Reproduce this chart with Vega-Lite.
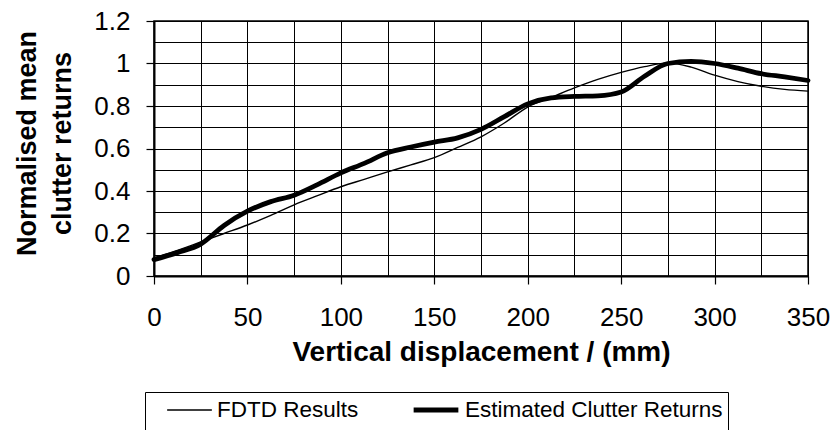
{
  "$schema": "https://vega.github.io/schema/vega-lite/v6.json",
  "width": 654,
  "height": 255,
  "autosize": {"type": "none"},
  "padding": {"left": 154, "top": 21, "right": 27, "bottom": 154},
  "background": "white",
  "config": {
    "font": "Liberation Sans",
    "view": {"stroke": "black", "strokeWidth": 1.5},
    "axis": {
      "labelFont": "Liberation Sans",
      "labelFontSize": 26,
      "labelColor": "black",
      "titleFont": "Liberation Sans",
      "titleColor": "black",
      "titleFontWeight": "bold",
      "gridColor": "black",
      "gridWidth": 1,
      "gridOpacity": 1,
      "domainColor": "black",
      "domainWidth": 2,
      "tickColor": "black",
      "tickWidth": 1.2,
      "tickSize": 8
    }
  },
  "data": {
    "values": [
      {"x": 0, "y": 0.085, "series": "FDTD Results"},
      {"x": 12.5, "y": 0.12, "series": "FDTD Results"},
      {"x": 25, "y": 0.16, "series": "FDTD Results"},
      {"x": 37.5, "y": 0.2, "series": "FDTD Results"},
      {"x": 50, "y": 0.24, "series": "FDTD Results"},
      {"x": 62.5, "y": 0.285, "series": "FDTD Results"},
      {"x": 75, "y": 0.335, "series": "FDTD Results"},
      {"x": 87.5, "y": 0.378, "series": "FDTD Results"},
      {"x": 100, "y": 0.42, "series": "FDTD Results"},
      {"x": 112.5, "y": 0.455, "series": "FDTD Results"},
      {"x": 125, "y": 0.49, "series": "FDTD Results"},
      {"x": 137.5, "y": 0.523, "series": "FDTD Results"},
      {"x": 150, "y": 0.557, "series": "FDTD Results"},
      {"x": 162.5, "y": 0.605, "series": "FDTD Results"},
      {"x": 175, "y": 0.655, "series": "FDTD Results"},
      {"x": 187.5, "y": 0.72, "series": "FDTD Results"},
      {"x": 200, "y": 0.795, "series": "FDTD Results"},
      {"x": 212.5, "y": 0.84, "series": "FDTD Results"},
      {"x": 225, "y": 0.885, "series": "FDTD Results"},
      {"x": 237.5, "y": 0.925, "series": "FDTD Results"},
      {"x": 250, "y": 0.958, "series": "FDTD Results"},
      {"x": 262.5, "y": 0.985, "series": "FDTD Results"},
      {"x": 275, "y": 1.003, "series": "FDTD Results"},
      {"x": 287.5, "y": 0.983, "series": "FDTD Results"},
      {"x": 300, "y": 0.945, "series": "FDTD Results"},
      {"x": 312.5, "y": 0.915, "series": "FDTD Results"},
      {"x": 325, "y": 0.893, "series": "FDTD Results"},
      {"x": 337.5, "y": 0.878, "series": "FDTD Results"},
      {"x": 350, "y": 0.87, "series": "FDTD Results"},
      {"x": 0, "y": 0.077, "series": "Estimated Clutter Returns"},
      {"x": 12.5, "y": 0.11, "series": "Estimated Clutter Returns"},
      {"x": 25, "y": 0.15, "series": "Estimated Clutter Returns"},
      {"x": 37.5, "y": 0.238, "series": "Estimated Clutter Returns"},
      {"x": 50, "y": 0.305, "series": "Estimated Clutter Returns"},
      {"x": 62.5, "y": 0.35, "series": "Estimated Clutter Returns"},
      {"x": 75, "y": 0.38, "series": "Estimated Clutter Returns"},
      {"x": 87.5, "y": 0.43, "series": "Estimated Clutter Returns"},
      {"x": 100, "y": 0.485, "series": "Estimated Clutter Returns"},
      {"x": 112.5, "y": 0.53, "series": "Estimated Clutter Returns"},
      {"x": 125, "y": 0.58, "series": "Estimated Clutter Returns"},
      {"x": 137.5, "y": 0.607, "series": "Estimated Clutter Returns"},
      {"x": 150, "y": 0.63, "series": "Estimated Clutter Returns"},
      {"x": 162.5, "y": 0.65, "series": "Estimated Clutter Returns"},
      {"x": 175, "y": 0.69, "series": "Estimated Clutter Returns"},
      {"x": 187.5, "y": 0.75, "series": "Estimated Clutter Returns"},
      {"x": 200, "y": 0.81, "series": "Estimated Clutter Returns"},
      {"x": 212.5, "y": 0.838, "series": "Estimated Clutter Returns"},
      {"x": 225, "y": 0.845, "series": "Estimated Clutter Returns"},
      {"x": 237.5, "y": 0.848, "series": "Estimated Clutter Returns"},
      {"x": 250, "y": 0.866, "series": "Estimated Clutter Returns"},
      {"x": 262.5, "y": 0.94, "series": "Estimated Clutter Returns"},
      {"x": 275, "y": 1.0, "series": "Estimated Clutter Returns"},
      {"x": 287.5, "y": 1.01, "series": "Estimated Clutter Returns"},
      {"x": 300, "y": 1.0, "series": "Estimated Clutter Returns"},
      {"x": 312.5, "y": 0.978, "series": "Estimated Clutter Returns"},
      {"x": 325, "y": 0.952, "series": "Estimated Clutter Returns"},
      {"x": 337.5, "y": 0.937, "series": "Estimated Clutter Returns"},
      {"x": 350, "y": 0.92, "series": "Estimated Clutter Returns"}
    ]
  },
  "mark": {"type": "line", "interpolate": "monotone", "color": "black", "strokeCap": "round", "strokeJoin": "round"},
  "encoding": {
    "x": {
      "field": "x",
      "type": "quantitative",
      "scale": {"domain": [0, 350], "nice": false},
      "axis": {
        "values": [0, 25, 50, 75, 100, 125, 150, 175, 200, 225, 250, 275, 300, 325, 350],
        "labelExpr": "datum.value % 50 === 0 ? datum.label : ''",
        "tickOpacity": {"condition": {"test": "datum.value % 50 === 0", "value": 1}, "value": 0},
        "title": "Vertical displacement / (mm)",
        "titleFontSize": 28,
        "titleBaseline": "alphabetic",
        "titleY": 84,
        "labelBaseline": "alphabetic",
        "labelPadding": 41,
        "labelFlush": false,
        "labelOverlap": false
      }
    },
    "y": {
      "field": "y",
      "type": "quantitative",
      "scale": {"domain": [0, 1.2], "nice": false},
      "axis": {
        "values": [0, 0.1, 0.2, 0.3, 0.4, 0.5, 0.6, 0.7, 0.8, 0.9, 1, 1.1, 1.2],
        "format": "~g",
        "labelExpr": "round(datum.value * 10) % 2 === 0 ? datum.label : ''",
        "tickOpacity": {"condition": {"test": "round(datum.value * 10) % 2 === 0", "value": 1}, "value": 0},
        "labelPadding": 16,
        "labelFlush": false,
        "labelOverlap": false,
        "title": ["Normalised mean", "clutter returns"],
        "titleFontSize": 27,
        "titleLineHeight": 35,
        "titleBaseline": "middle",
        "titleX": -127,
        "titleY": 122
      }
    },
    "strokeWidth": {
      "field": "series",
      "type": "ordinal",
      "scale": {"type": "ordinal", "domain": ["FDTD Results", "Estimated Clutter Returns"], "range": [1.4, 4.8]},
      "legend": {
        "orient": "none",
        "direction": "horizontal",
        "legendX": -9,
        "legendY": 371,
        "title": " ",
        "titleOrient": "bottom",
        "titleFontSize": 20,
        "titlePadding": 6,
        "strokeColor": "black",
        "fillColor": "white",
        "padding": 5,
        "symbolType": "stroke",
        "symbolSize": 2000,
        "symbolStrokeColor": "black",
        "symbolOffset": 16,
        "clipHeight": 26,
        "labelFont": "Liberation Sans",
        "labelFontSize": 22.5,
        "labelColor": "black",
        "labelOffset": 4,
        "labelLimit": 400,
        "columnPadding": 36
      }
    }
  }
}
